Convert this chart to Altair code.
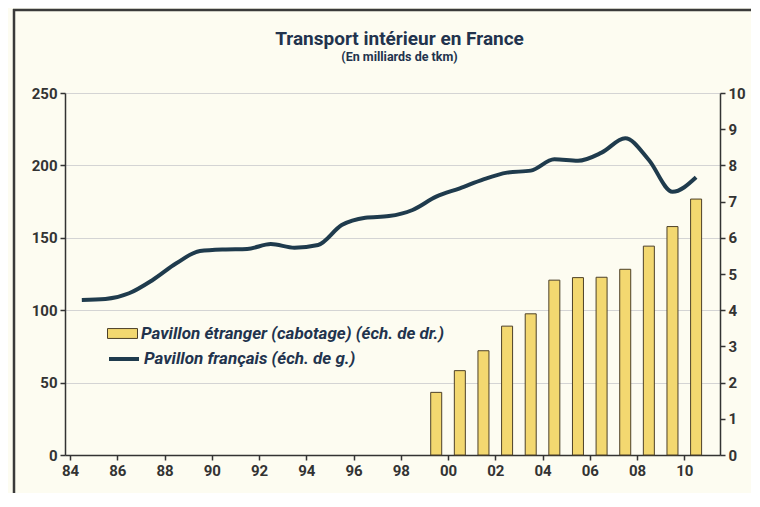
import altair as alt
import pandas as pd

title_text = "Transport intérieur en France"
subtitle_text = "(En milliards de tkm)"

line_label = "Pavillon français (éch. de g.)"
bar_label = "Pavillon étranger (cabotage) (éch. de dr.)"

line_years = list(range(1984, 2011))
line_values = [107.0, 107.7, 111.7, 120.9, 132.4, 140.9, 142.0, 142.3, 145.7, 143.2,
               145.0, 158.8, 163.9, 165.0, 169.2, 178.4, 184.2, 190.4, 195.0, 196.4,
               204.2, 203.2, 208.8, 218.7, 203.7, 181.8, 191.8]

bar_years = list(range(1999, 2011))
bar_values = [1.73, 2.33, 2.88, 3.56, 3.90, 4.83, 4.90, 4.91, 5.13, 5.77, 6.31, 7.07]

x_ticks = list(range(1984, 2011, 2))
left_ticks = [0, 50, 100, 150, 200, 250]
right_ticks = list(range(0, 11))

FONT = "Roboto, 'DejaVu Sans', sans-serif"
NAVY = "#22334d"
LINE_COL = "#1f3b4d"
BAR_COL = "#f3d870"
BAR_EDGE = "#4d4028"
CREAM = "#fdfcf1"
AX = "#333333"
FRAME = "#3a3a3a"

W, H = 655, 362
PAD = {"left": 57, "top": 85, "right": 31, "bottom": 38}

line_df = pd.DataFrame({"year": line_years, "value": line_values, "serie": line_label})
line_df["pos"] = line_df["year"] + 0.5
bar_df = pd.DataFrame({"year": bar_years, "value": bar_values, "serie": bar_label})
bar_df["pos"] = bar_df["year"] + 0.5

x_scale = alt.Scale(domain=[1984, 2011.3], nice=False, zero=False)
x_axis = alt.Axis(values=x_ticks, labelExpr="substring(toString(datum.value), 2, 4)",
                  grid=False, title=None, labelFont=FONT, labelFontSize=15,
                  labelFontWeight="bold", labelColor=AX, domainColor=AX, domainWidth=1.5,
                  tickColor=AX, tickWidth=1.5, tickSize=5, labelPadding=3)

one = pd.DataFrame({"a": [0]})
frame_top = alt.Chart(one).mark_rule(stroke=FRAME, strokeWidth=2.5).encode(
    x=alt.value(-52), x2=alt.value(W + PAD["right"]), y=alt.value(-83)
)
frame_left = alt.Chart(one).mark_rule(stroke=FRAME, strokeWidth=2.5).encode(
    x=alt.value(-51), y=alt.value(-84), y2=alt.value(H + PAD["bottom"])
)

bars = alt.Chart(bar_df).mark_bar(size=11, stroke=BAR_EDGE, strokeWidth=1).encode(
    x=alt.X("pos:Q", scale=x_scale, axis=x_axis),
    y=alt.Y("value:Q", scale=alt.Scale(domain=[0, 10], nice=False),
            axis=alt.Axis(orient="right", values=right_ticks, grid=False, title=None,
                          labelFont=FONT, labelFontSize=15, labelFontWeight="bold",
                          labelColor=AX, domainColor=AX, domainWidth=1.5, tickColor=AX,
                          tickWidth=1.5, tickSize=5, labelPadding=3)),
    fill=alt.Fill("serie:N", scale=alt.Scale(domain=[bar_label], range=[BAR_COL]),
                  legend=alt.Legend(orient="none", legendX=42, legendY=225, title=None,
                                    symbolType="M-1,-0.33H1V0.33H-1Z", symbolSize=900,
                                    symbolStrokeColor=BAR_EDGE, symbolStrokeWidth=1,
                                    labelFont=FONT, labelFontSize=17, labelFontStyle="italic",
                                    labelFontWeight="bold", labelColor=NAVY, labelLimit=600,
                                    labelOffset=3)),
)

line = alt.Chart(line_df).mark_line(strokeWidth=4, interpolate="monotone").encode(
    x=alt.X("pos:Q", scale=x_scale, axis=x_axis),
    y=alt.Y("value:Q", scale=alt.Scale(domain=[0, 250], nice=False),
            axis=alt.Axis(orient="left", values=left_ticks, grid=True, gridColor="#d4d4d4",
                          gridWidth=1, title=None, labelFont=FONT, labelFontSize=15,
                          labelFontWeight="bold", labelColor=AX, domainColor=AX,
                          domainWidth=1.5, tickColor=AX, tickWidth=1.5, tickSize=5,
                          labelPadding=3)),
    stroke=alt.Stroke("serie:N", scale=alt.Scale(domain=[line_label], range=[LINE_COL]),
                      legend=alt.Legend(orient="none", legendX=42, legendY=249, title=None,
                                        symbolType="stroke", symbolSize=900,
                                        symbolStrokeWidth=4,
                                        labelFont=FONT, labelFontSize=17,
                                        labelFontStyle="italic", labelFontWeight="bold",
                                        labelColor=NAVY, labelLimit=600, labelOffset=3)),
)

chart = alt.layer(frame_top, frame_left, bars, line).resolve_scale(
    y="independent", fill="independent", stroke="independent"
).properties(
    width=W, height=H,
    padding=PAD,
    autosize=alt.AutoSizeParams(type="none"),
    background=CREAM,
    title=alt.TitleParams(text=title_text, subtitle=subtitle_text, font=FONT, fontSize=19,
                          fontWeight="bold", color=NAVY, subtitleFont=FONT,
                          subtitleFontSize=12.5, subtitleFontWeight="bold",
                          subtitleColor=NAVY, anchor="middle", frame="group", dx=7,
                          offset=-56, subtitlePadding=2),
).configure_view(stroke=None)

chart.save("out.html", embed_options={"renderer": "svg", "actions": False})
